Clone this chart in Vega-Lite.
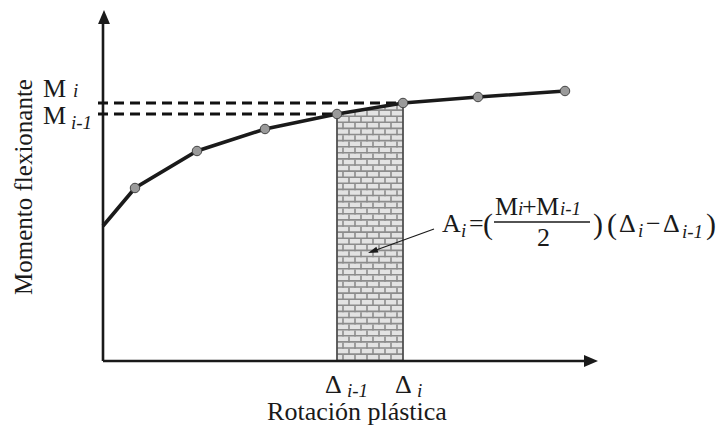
{
  "$schema": "https://vega.github.io/schema/vega-lite/v6.json",
  "width": 723,
  "height": 433,
  "autosize": {"type": "fit", "contains": "padding"},
  "padding": 0,
  "background": "white",
  "config": {"view": {"stroke": null}},
  "datasets": {
    "curve": [{"rot": 0, "mom": 135}, {"rot": 32, "mom": 173}, {"rot": 94, "mom": 210}, {"rot": 162, "mom": 232}, {"rot": 234, "mom": 247}, {"rot": 300, "mom": 258}, {"rot": 375, "mom": 264}, {"rot": 462, "mom": 270}],
    "pts": [{"rot": 32, "mom": 173}, {"rot": 94, "mom": 210}, {"rot": 162, "mom": 232}, {"rot": 234, "mom": 247}, {"rot": 300, "mom": 258}, {"rot": 375, "mom": 264}, {"rot": 462, "mom": 270}],
    "block": [{"rot": 234, "mom": 247}, {"rot": 300, "mom": 258}],
    "mask": [{"rot": 234, "mom": 247.5, "top": 278}, {"rot": 300, "mom": 258.5, "top": 278}],
    "hmortar": [{"rot": 267, "mom": 0, "top": 258}],
    "jointsA": [{"rot": 240, "mom": 0, "top": 258}, {"rot": 252, "mom": 0, "top": 258}, {"rot": 264, "mom": 0, "top": 258}, {"rot": 276, "mom": 0, "top": 258}, {"rot": 288, "mom": 0, "top": 258}],
    "jointsB": [{"rot": 246, "mom": 0, "top": 258}, {"rot": 258, "mom": 0, "top": 258}, {"rot": 270, "mom": 0, "top": 258}, {"rot": 282, "mom": 0, "top": 258}, {"rot": 294, "mom": 0, "top": 258}],
    "axes": [{"rot": 0, "mom": 0, "rot2": 0, "mom2": 338}, {"rot": 0, "mom": 0, "rot2": 484, "mom2": 0}],
    "arrowUp": [{"rot": 1, "mom": 344}],
    "arrowRight": [{"rot": 488, "mom": 0}],
    "dashes": [{"rot": -5, "mom": 258, "rot2": 300}, {"rot": -5, "mom": 247, "rot2": 234}],
    "pointer": [{"rot": 331, "mom": 132, "rot2": 269.7, "mom2": 109.7}],
    "pointerHead": [{"rot": 269.7, "mom": 109.7}],
    "fracBar": [{"rot": 391, "mom": 139, "rot2": 487}],
    "roman": [
      {"t": "M", "rot": -60, "mom": 264},
      {"t": "M", "rot": -60, "mom": 237},
      {"t": "Δ", "rot": 222, "mom": -32},
      {"t": "Δ", "rot": 292, "mom": -32},
      {"t": "A", "rot": 339, "mom": 129},
      {"t": "=", "rot": 366, "mom": 129},
      {"t": "M", "rot": 392, "mom": 146},
      {"t": "+", "rot": 419, "mom": 146},
      {"t": "M", "rot": 433, "mom": 146},
      {"t": "2", "rot": 434, "mom": 115},
      {"t": "Δ", "rot": 516, "mom": 129},
      {"t": "−", "rot": 543, "mom": 129},
      {"t": "Δ", "rot": 560, "mom": 129}
    ],
    "italic": [
      {"t": "i", "rot": -30, "mom": 264},
      {"t": "i-1", "rot": -32, "mom": 232},
      {"t": "i-1", "rot": 244, "mom": -36},
      {"t": "i", "rot": 314, "mom": -36},
      {"t": "i", "rot": 358, "mom": 124},
      {"t": "i", "rot": 415, "mom": 146},
      {"t": "i-1", "rot": 457, "mom": 146},
      {"t": "i", "rot": 535, "mom": 124},
      {"t": "i-1", "rot": 579, "mom": 123}
    ],
    "parens": [
      {"t": "(", "rot": 380, "mom": 127},
      {"t": ")", "rot": 490, "mom": 127},
      {"t": "(", "rot": 504, "mom": 127},
      {"t": ")", "rot": 603, "mom": 127}
    ],
    "xtitle": [{"t": "Rotación plástica", "rot": 254, "mom": -59}],
    "ytitle": [{"t": "Momento flexionante", "rot": -71, "mom": 174}]
  },
  "layer": [
    {
      "data": {"name": "block"},
      "mark": {"type": "area", "color": "#e3e3e3"},
      "encoding": {
        "x": {"field": "rot", "type": "quantitative", "scale": {"domain": [-103, 620], "nice": false, "zero": false}, "axis": null},
        "y": {"field": "mom", "type": "quantitative", "scale": {"domain": [-72, 361], "nice": false, "zero": false}, "axis": null},
        "y2": {"datum": 0}
      }
    },
    {
      "data": {"name": "hmortar"},
      "mark": {"type": "rule", "color": "#8c8c8c", "strokeWidth": 66, "strokeDash": [1.6, 4.5], "strokeCap": "butt"},
      "encoding": {
        "x": {"field": "rot", "type": "quantitative", "scale": {"domain": [-103, 620], "nice": false, "zero": false}, "axis": null},
        "y": {"field": "mom", "type": "quantitative", "scale": {"domain": [-72, 361], "nice": false, "zero": false}, "axis": null},
        "y2": {"field": "top"}
      }
    },
    {
      "data": {"name": "jointsA"},
      "mark": {"type": "rule", "color": "#8c8c8c", "strokeWidth": 1.6, "strokeDash": [6.1, 6.1], "strokeDashOffset": 0, "strokeCap": "butt"},
      "encoding": {
        "x": {"field": "rot", "type": "quantitative", "scale": {"domain": [-103, 620], "nice": false, "zero": false}, "axis": null},
        "y": {"field": "mom", "type": "quantitative", "scale": {"domain": [-72, 361], "nice": false, "zero": false}, "axis": null},
        "y2": {"field": "top"}
      }
    },
    {
      "data": {"name": "jointsB"},
      "mark": {"type": "rule", "color": "#8c8c8c", "strokeWidth": 1.6, "strokeDash": [6.1, 6.1], "strokeDashOffset": 6.1, "strokeCap": "butt"},
      "encoding": {
        "x": {"field": "rot", "type": "quantitative", "scale": {"domain": [-103, 620], "nice": false, "zero": false}, "axis": null},
        "y": {"field": "mom", "type": "quantitative", "scale": {"domain": [-72, 361], "nice": false, "zero": false}, "axis": null},
        "y2": {"field": "top"}
      }
    },
    {
      "data": {"name": "mask"},
      "mark": {"type": "area", "color": "white"},
      "encoding": {
        "x": {"field": "rot", "type": "quantitative", "scale": {"domain": [-103, 620], "nice": false, "zero": false}, "axis": null},
        "y": {"field": "mom", "type": "quantitative", "scale": {"domain": [-72, 361], "nice": false, "zero": false}, "axis": null},
        "y2": {"field": "top"}
      }
    },
    {
      "data": {"name": "block"},
      "mark": {"type": "area", "fillOpacity": 0, "stroke": "#505050", "strokeWidth": 1.8},
      "encoding": {
        "x": {"field": "rot", "type": "quantitative", "scale": {"domain": [-103, 620], "nice": false, "zero": false}, "axis": null},
        "y": {"field": "mom", "type": "quantitative", "scale": {"domain": [-72, 361], "nice": false, "zero": false}, "axis": null},
        "y2": {"datum": 0}
      }
    },
    {
      "data": {"name": "axes"},
      "mark": {"type": "rule", "color": "#1a1a1a", "strokeWidth": 2.6},
      "encoding": {
        "x": {"field": "rot", "type": "quantitative", "scale": {"domain": [-103, 620], "nice": false, "zero": false}, "axis": null},
        "y": {"field": "mom", "type": "quantitative", "scale": {"domain": [-72, 361], "nice": false, "zero": false}, "axis": null},
        "x2": {"field": "rot2"},
        "y2": {"field": "mom2"}
      }
    },
    {
      "data": {"name": "arrowUp"},
      "mark": {"type": "point", "shape": "M0,-1L0.85,1L-0.85,1Z", "size": 196, "filled": true, "color": "#1a1a1a", "opacity": 1},
      "encoding": {
        "x": {"field": "rot", "type": "quantitative", "scale": {"domain": [-103, 620], "nice": false, "zero": false}, "axis": null},
        "y": {"field": "mom", "type": "quantitative", "scale": {"domain": [-72, 361], "nice": false, "zero": false}, "axis": null}
      }
    },
    {
      "data": {"name": "arrowRight"},
      "mark": {"type": "point", "shape": "M1,0L-1,0.85L-1,-0.85Z", "size": 196, "filled": true, "color": "#1a1a1a", "opacity": 1},
      "encoding": {
        "x": {"field": "rot", "type": "quantitative", "scale": {"domain": [-103, 620], "nice": false, "zero": false}, "axis": null},
        "y": {"field": "mom", "type": "quantitative", "scale": {"domain": [-72, 361], "nice": false, "zero": false}, "axis": null}
      }
    },
    {
      "data": {"name": "dashes"},
      "mark": {"type": "rule", "color": "#111111", "strokeWidth": 3, "strokeDash": [10, 6]},
      "encoding": {
        "x": {"field": "rot", "type": "quantitative", "scale": {"domain": [-103, 620], "nice": false, "zero": false}, "axis": null},
        "y": {"field": "mom", "type": "quantitative", "scale": {"domain": [-72, 361], "nice": false, "zero": false}, "axis": null},
        "x2": {"field": "rot2"}
      }
    },
    {
      "data": {"name": "curve"},
      "mark": {"type": "line", "color": "#1a1a1a", "strokeWidth": 3.6},
      "encoding": {
        "x": {"field": "rot", "type": "quantitative", "scale": {"domain": [-103, 620], "nice": false, "zero": false}, "axis": null},
        "y": {"field": "mom", "type": "quantitative", "scale": {"domain": [-72, 361], "nice": false, "zero": false}, "axis": null}
      }
    },
    {
      "data": {"name": "pts"},
      "mark": {"type": "point", "shape": "circle", "size": 90, "filled": true, "fill": "#9a9a9a", "stroke": "#444444", "strokeWidth": 1, "opacity": 1},
      "encoding": {
        "x": {"field": "rot", "type": "quantitative", "scale": {"domain": [-103, 620], "nice": false, "zero": false}, "axis": null},
        "y": {"field": "mom", "type": "quantitative", "scale": {"domain": [-72, 361], "nice": false, "zero": false}, "axis": null}
      }
    },
    {
      "data": {"name": "pointer"},
      "mark": {"type": "rule", "color": "#1a1a1a", "strokeWidth": 1.2},
      "encoding": {
        "x": {"field": "rot", "type": "quantitative", "scale": {"domain": [-103, 620], "nice": false, "zero": false}, "axis": null},
        "y": {"field": "mom", "type": "quantitative", "scale": {"domain": [-72, 361], "nice": false, "zero": false}, "axis": null},
        "x2": {"field": "rot2"},
        "y2": {"field": "mom2"}
      }
    },
    {
      "data": {"name": "pointerHead"},
      "mark": {"type": "point", "shape": "M1,0L-1,0.6L-1,-0.6Z", "size": 100, "filled": true, "color": "#1a1a1a", "opacity": 1, "angle": 160},
      "encoding": {
        "x": {"field": "rot", "type": "quantitative", "scale": {"domain": [-103, 620], "nice": false, "zero": false}, "axis": null},
        "y": {"field": "mom", "type": "quantitative", "scale": {"domain": [-72, 361], "nice": false, "zero": false}, "axis": null}
      }
    },
    {
      "data": {"name": "fracBar"},
      "mark": {"type": "rule", "color": "#1a1a1a", "strokeWidth": 1.3},
      "encoding": {
        "x": {"field": "rot", "type": "quantitative", "scale": {"domain": [-103, 620], "nice": false, "zero": false}, "axis": null},
        "y": {"field": "mom", "type": "quantitative", "scale": {"domain": [-72, 361], "nice": false, "zero": false}, "axis": null},
        "x2": {"field": "rot2"}
      }
    },
    {
      "data": {"name": "roman"},
      "mark": {"type": "text", "align": "left", "baseline": "alphabetic", "fontSize": 26, "font": "Liberation Serif", "color": "#1a1a1a"},
      "encoding": {
        "x": {"field": "rot", "type": "quantitative", "scale": {"domain": [-103, 620], "nice": false, "zero": false}, "axis": null},
        "y": {"field": "mom", "type": "quantitative", "scale": {"domain": [-72, 361], "nice": false, "zero": false}, "axis": null},
        "text": {"field": "t"}
      }
    },
    {
      "data": {"name": "italic"},
      "mark": {"type": "text", "align": "left", "baseline": "alphabetic", "fontSize": 19, "fontStyle": "italic", "font": "Liberation Serif", "color": "#1a1a1a"},
      "encoding": {
        "x": {"field": "rot", "type": "quantitative", "scale": {"domain": [-103, 620], "nice": false, "zero": false}, "axis": null},
        "y": {"field": "mom", "type": "quantitative", "scale": {"domain": [-72, 361], "nice": false, "zero": false}, "axis": null},
        "text": {"field": "t"}
      }
    },
    {
      "data": {"name": "parens"},
      "mark": {"type": "text", "align": "left", "baseline": "alphabetic", "fontSize": 30, "font": "Liberation Serif", "color": "#1a1a1a"},
      "encoding": {
        "x": {"field": "rot", "type": "quantitative", "scale": {"domain": [-103, 620], "nice": false, "zero": false}, "axis": null},
        "y": {"field": "mom", "type": "quantitative", "scale": {"domain": [-72, 361], "nice": false, "zero": false}, "axis": null},
        "text": {"field": "t"}
      }
    },
    {
      "data": {"name": "xtitle"},
      "mark": {"type": "text", "align": "center", "baseline": "alphabetic", "fontSize": 26, "font": "Liberation Serif", "color": "#1a1a1a"},
      "encoding": {
        "x": {"field": "rot", "type": "quantitative", "scale": {"domain": [-103, 620], "nice": false, "zero": false}, "axis": null},
        "y": {"field": "mom", "type": "quantitative", "scale": {"domain": [-72, 361], "nice": false, "zero": false}, "axis": null},
        "text": {"field": "t"}
      }
    },
    {
      "data": {"name": "ytitle"},
      "mark": {"type": "text", "align": "center", "baseline": "alphabetic", "fontSize": 25, "angle": 270, "font": "Liberation Serif", "color": "#1a1a1a"},
      "encoding": {
        "x": {"field": "rot", "type": "quantitative", "scale": {"domain": [-103, 620], "nice": false, "zero": false}, "axis": null},
        "y": {"field": "mom", "type": "quantitative", "scale": {"domain": [-72, 361], "nice": false, "zero": false}, "axis": null},
        "text": {"field": "t"}
      }
    }
  ]
}
